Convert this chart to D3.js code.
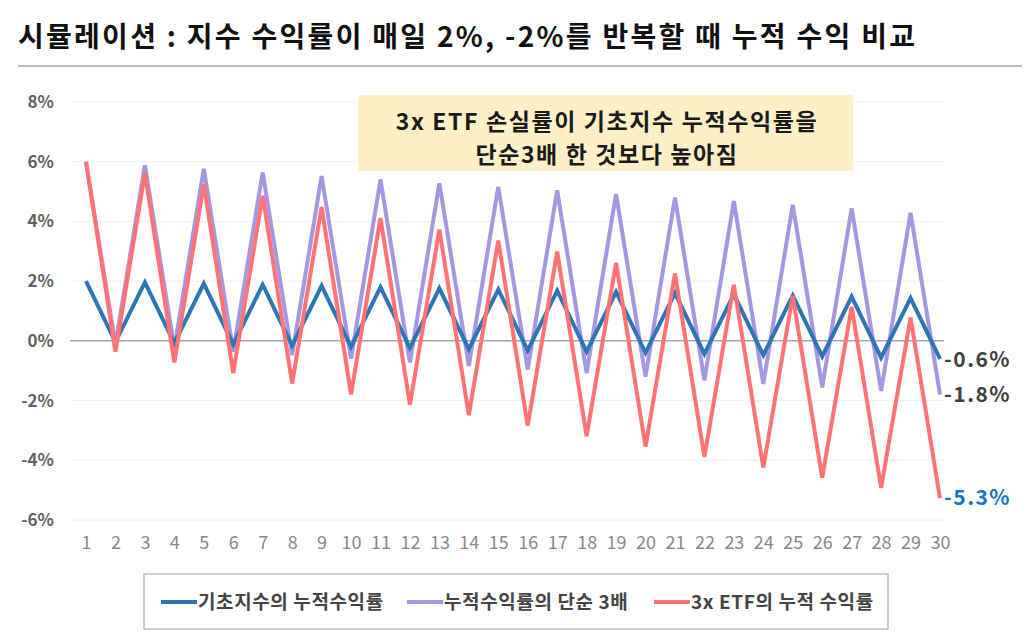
<!DOCTYPE html>
<html>
<head>
<meta charset="utf-8">
<script src="https://cdn.jsdelivr.net/npm/d3@7"></script>
<style>
  body { margin: 0; background: #fff; }
  svg { display: block; font-family: "Noto Sans CJK KR", "Noto Sans", sans-serif; }
</style>
</head>
<body>
<svg id="chart" width="1024" height="644"></svg>
<script>
// days 1..30
const days = d3.range(1, 31);
// cumulative return of the index (%)
const indexReturn = [2.00, -0.04, 1.96, -0.08, 1.92, -0.12, 1.88, -0.16, 1.84, -0.20,
  1.80, -0.24, 1.76, -0.28, 1.72, -0.32, 1.68, -0.36, 1.64, -0.40,
  1.60, -0.44, 1.56, -0.48, 1.52, -0.52, 1.48, -0.56, 1.43, -0.60];
// simple 3x of the cumulative index return (%)
const simple3x = [6.00, -0.12, 5.88, -0.24, 5.76, -0.36, 5.64, -0.48, 5.52, -0.60,
  5.40, -0.72, 5.28, -0.84, 5.16, -0.96, 5.04, -1.08, 4.92, -1.20,
  4.80, -1.32, 4.68, -1.44, 4.56, -1.56, 4.44, -1.68, 4.29, -1.80];
// cumulative return of the 3x ETF (%)
const etf3x = [6.00, -0.36, 5.62, -0.72, 5.24, -1.08, 4.86, -1.43, 4.48, -1.79,
  4.11, -2.14, 3.73, -2.49, 3.36, -2.84, 2.99, -3.19, 2.61, -3.54,
  2.25, -3.89, 1.88, -4.24, 1.51, -4.58, 1.14, -4.92, 0.78, -5.27];
const yTicks = [8, 6, 4, 2, 0, -2, -4, -6];
const seriesNames = ['기초지수의 누적수익률', '누적수익률의 단순 3배', '3x ETF의 누적 수익률'];
const endLabels = ['-0.6%', '-1.8%', '-5.3%'];

const svg = d3.select('#chart');
const colors = ['#2e75b6', '#a597e0', '#ff7275'];

// title
svg.append('text')
  .attr('x', 18).attr('y', 47)
  .attr('textLength', 897).attr('lengthAdjust', 'spacing')
  .style('font-size', '28px').style('font-weight', 'bold').style('fill', '#111')
  .text('시뮬레이션 : 지수 수익률이 매일 2%, -2%를 반복할 때 누적 수익 비교');
svg.append('line')
  .attr('x1', 18).attr('x2', 1022).attr('y1', 66).attr('y2', 66)
  .style('stroke', '#bdbdbd').style('stroke-width', 2);

const x = d3.scalePoint().domain(days).range([86, 940]);
const y = d3.scaleLinear().domain([-6, 8]).range([520, 102]);

// grid
svg.append('g').selectAll('line')
  .data(yTicks)
  .join('line')
  .attr('x1', 70).attr('x2', 944)
  .attr('y1', d => y(d)).attr('y2', d => y(d))
  .style('stroke', d => d === 0 ? '#a6a6a6' : '#f0f0f0')
  .style('stroke-width', d => d === 0 ? 1.5 : 1);

// y axis
const yAxis = svg.append('g')
  .attr('transform', 'translate(54,0)')
  .call(d3.axisLeft(y).tickValues(yTicks).tickFormat(d => d + '%').tickSize(0).tickPadding(0));
yAxis.select('.domain').remove();
yAxis.selectAll('text')
  .style('font-family', '"Noto Sans CJK KR", sans-serif')
  .style('font-size', '17px').style('font-weight', 'bold').style('fill', '#616161');

// x axis
const xAxis = svg.append('g')
  .attr('transform', 'translate(0,535)')
  .call(d3.axisBottom(x).tickSize(0).tickPadding(0));
xAxis.select('.domain').remove();
xAxis.selectAll('text')
  .attr('dy', '0.75em')
  .style('font-family', '"Noto Sans CJK KR", sans-serif')
  .style('font-size', '18px').style('fill', '#888');

// annotation box
svg.append('rect')
  .attr('x', 358).attr('y', 95).attr('width', 495).attr('height', 76)
  .style('fill', '#fdf0c7');
const note = svg.append('g')
  .attr('text-anchor', 'middle')
  .style('font-size', '23px').style('font-weight', 'bold').style('fill', '#1a1a1a')
  .style('letter-spacing', '1.6px');
note.append('text').attr('x', 607).attr('y', 130).text('3x ETF 손실률이 기초지수 누적수익률을');
note.append('text').attr('x', 607).attr('y', 163).text('단순3배 한 것보다 높아짐');

// lines
const line = d3.line()
  .x((d, i) => x(days[i]))
  .y(d => y(d));
const allSeries = [indexReturn, simple3x, etf3x];
svg.append('g').selectAll('path')
  .data([simple3x, indexReturn, etf3x])
  .join('path')
  .attr('d', line)
  .style('fill', 'none')
  .style('stroke', d => colors[allSeries.indexOf(d)])
  .style('stroke-width', 4)
  .style('stroke-linejoin', 'miter');

// end labels
const labelY = [360, 395, 498];
svg.append('g').selectAll('text')
  .data(endLabels)
  .join('text')
  .attr('x', 944).attr('y', (d, i) => labelY[i])
  .attr('dy', '0.35em')
  .style('font-size', '21px').style('font-weight', 'bold')
  .style('fill', (d, i) => i === 2 ? '#1a73c2' : '#404040')
  .style('letter-spacing', '1.5px')
  .text(d => d);

// legend
svg.append('rect')
  .attr('x', 144).attr('y', 574).attr('width', 744).attr('height', 55)
  .style('fill', '#fff').style('stroke', '#bfbfbf').style('stroke-width', 1.5);
const legendX = [161, 407, 654];
const lg = svg.append('g').selectAll('g')
  .data(seriesNames)
  .join('g')
  .attr('transform', (d, i) => 'translate(' + legendX[i] + ',602)');
lg.append('line')
  .attr('x1', 0).attr('x2', 36)
  .style('stroke', (d, i) => colors[i]).style('stroke-width', 4);
lg.append('text')
  .attr('x', 37).attr('dy', '0.35em')
  .style('font-size', '19px').style('font-weight', 'bold').style('fill', '#444')
  .style('letter-spacing', '0.6px')
  .text(d => d);
</script>
</body>
</html>
